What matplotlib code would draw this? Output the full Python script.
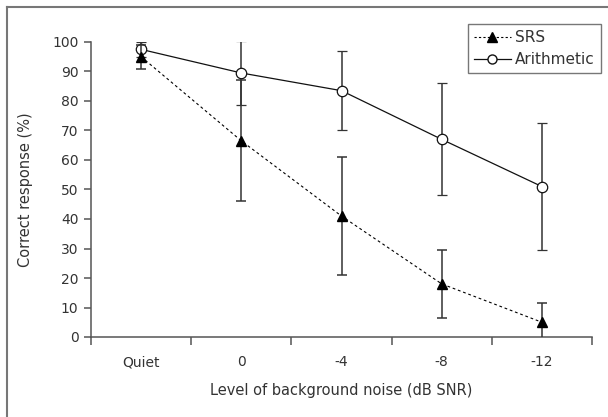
import matplotlib.pyplot as plt
from matplotlib.lines import Line2D

# data
conditions = ['Quiet', '0', '-4', '-8', '-12']
srs_mean = [95.0, 66.5, 41.0, 18.0, 5.0]
srs_err = [4.0, 20.5, 20.0, 11.5, 6.5]
arith_mean = [97.5, 89.5, 83.5, 67.0, 51.0]
arith_err = [2.5, 11.0, 13.5, 19.0, 21.5]

plt.rcParams['font.family'] = ['DejaVu Sans']
text_col = '#333333'
axis_col = '#555555'

fig = plt.figure(figsize=(6.08, 4.17), dpi=100)
ax = fig.add_axes([91 / 608, 1 - 337 / 417, (592 - 91) / 608, (337 - 42) / 417])

x = list(range(len(conditions)))

ax.errorbar(x, srs_mean, yerr=srs_err, fmt='^', color='black', ms=7.5,
            ecolor='#333333', elinewidth=1.1, capsize=3.5, capthick=1.1,
            linestyle=(0, (2.5, 2.5)), linewidth=0.8, zorder=3, label='SRS')
ax.errorbar(x, arith_mean, yerr=arith_err, fmt='o', color='#111111', ms=7.5,
            mfc='white', mec='#111111', mew=0.9,
            ecolor='#333333', elinewidth=1.1, capsize=3.5, capthick=1.1,
            linestyle='-', linewidth=0.9, zorder=2, label='Arithmetic')

ax.set_xlim(-0.5, len(conditions) - 0.5)
ax.set_ylim(0, 100)
ax.set_yticks(range(0, 101, 10))

# category labels centred, tick marks on the boundaries
ax.set_xticks(x)
ax.set_xticklabels(conditions)
ax.tick_params(axis='x', which='major', length=0, pad=13, labelsize=10, colors=text_col)
ax.set_xticks([i - 0.5 for i in range(len(conditions) + 1)], minor=True)
ax.tick_params(axis='x', which='minor', length=6, width=1.1, color=axis_col, direction='out')
ax.tick_params(axis='y', length=5, width=1.1, color=axis_col, labelsize=10,
               labelcolor=text_col, pad=4)

for s in ['top', 'right']:
    ax.spines[s].set_visible(False)
for s in ['left', 'bottom']:
    ax.spines[s].set_color(axis_col)
    ax.spines[s].set_linewidth(1.1)

ax.set_xlabel('Level of background noise (dB SNR)', fontsize=10.5, color=text_col, labelpad=10)
ax.set_ylabel('Correct response (%)', fontsize=10.5, color=text_col, labelpad=14)

handles = [
    Line2D([], [], color='black', marker='^', ms=6.5, linestyle=(0, (2, 2)), linewidth=0.8),
    Line2D([], [], color='#111111', marker='o', ms=6.5, mfc='white', linewidth=0.9),
]
leg = ax.legend(handles, ['SRS', 'Arithmetic'], loc='upper right',
                bbox_to_anchor=(601 / 608, 1 - 24 / 417), bbox_transform=fig.transFigure,
                fontsize=11, frameon=True, fancybox=False, handlelength=2.4,
                handletextpad=0.3, borderpad=0.4, labelspacing=0.45, borderaxespad=0)
leg.get_frame().set_edgecolor(axis_col)
leg.get_frame().set_linewidth(1.0)
for t in leg.get_texts():
    t.set_color(text_col)

# partial outer frame of the original figure
fig.add_artist(Line2D([7 / 608, 1], [1 - 7 / 417] * 2, transform=fig.transFigure,
                      color='#777777', linewidth=1.5))
fig.add_artist(Line2D([7 / 608] * 2, [0, 1 - 7 / 417], transform=fig.transFigure,
                      color='#777777', linewidth=1.5))

fig.savefig('out.png', dpi=100)
